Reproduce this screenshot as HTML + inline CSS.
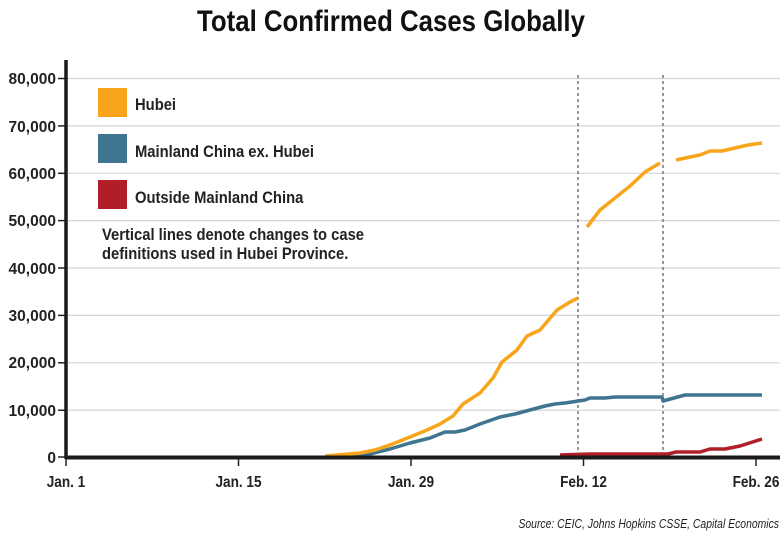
<!DOCTYPE html>
<html><head><meta charset="utf-8"><style>
html,body{margin:0;padding:0;background:#fff;}
svg{display:block;font-family:"Liberation Sans",sans-serif;}
</style></head><body>
<svg width="782" height="536" viewBox="0 0 782 536">
<text x="391" y="31" text-anchor="middle" font-size="30" font-weight="bold" fill="#111" transform="translate(391,0) scale(0.86,1) translate(-391,0)">Total Confirmed Cases Globally</text>
<g stroke="#d4d4d4" stroke-width="1.2">
<line x1="66" x2="780" y1="78.5" y2="78.5"/>
<line x1="66" x2="780" y1="125.9" y2="125.9"/>
<line x1="66" x2="780" y1="173.3" y2="173.3"/>
<line x1="66" x2="780" y1="220.6" y2="220.6"/>
<line x1="66" x2="780" y1="268" y2="268"/>
<line x1="66" x2="780" y1="315.4" y2="315.4"/>
<line x1="66" x2="780" y1="362.8" y2="362.8"/>
<line x1="66" x2="780" y1="410.2" y2="410.2"/>
</g>
<g font-size="16" font-weight="bold" fill="#222" text-anchor="end">
<g transform="translate(56,0) scale(0.97,1) translate(-56,0)">
<text x="56" y="84">80,000</text>
<text x="56" y="132">70,000</text>
<text x="56" y="179">60,000</text>
<text x="56" y="226">50,000</text>
<text x="56" y="274">40,000</text>
<text x="56" y="321">30,000</text>
<text x="56" y="368">20,000</text>
<text x="56" y="416">10,000</text>
<text x="56" y="463">0</text>
</g></g>
<g stroke="#222" stroke-width="1.5">
<line x1="58" x2="66" y1="78.5" y2="78.5"/><line x1="58" x2="66" y1="125.9" y2="125.9"/>
<line x1="58" x2="66" y1="173.3" y2="173.3"/><line x1="58" x2="66" y1="220.6" y2="220.6"/>
<line x1="58" x2="66" y1="268" y2="268"/><line x1="58" x2="66" y1="315.4" y2="315.4"/>
<line x1="58" x2="66" y1="362.8" y2="362.8"/><line x1="58" x2="66" y1="410.2" y2="410.2"/>
<line x1="58" x2="66" y1="457" y2="457"/>
<line x1="66" x2="66" y1="457" y2="466"/><line x1="238.5" x2="238.5" y1="457" y2="466"/>
<line x1="411" x2="411" y1="457" y2="466"/><line x1="583.5" x2="583.5" y1="457" y2="466"/>
<line x1="756" x2="756" y1="457" y2="466"/>
</g>
<line x1="66" x2="66" y1="60" y2="459" stroke="#1a1a1a" stroke-width="3.5"/>
<g stroke="#777" stroke-width="1.5" stroke-dasharray="3,3">
<line x1="578" x2="578" y1="75" y2="457"/><line x1="663" x2="663" y1="75" y2="457"/>
</g>
<g fill="none" stroke-width="3.5" stroke-linejoin="round">
<polyline stroke="#b01e27" points="560,455 590,454 620,454 650,454 668,454 676,452 700,452 710,449 725,449 740,446 762,439"/>
<polyline stroke="#3f7590" points="330,457 370,454 390,449 410,443 430,438 440,434 445,432 455,432 465,430 480,424 500,417 515,414 530,410 545,406 555,404 565,403 585,400 590,398 605,398 615,397 640,397 662,397 663,401 685,395 762,395"/>
<polyline stroke="#f8a51c" points="325,456 360,453 375,450 390,445 410,437 427,430 440,424 453,416 463,404 480,393 493,378 502,362 517,350 527,336 540,330 557,310 570,302 578,298"/>
<polyline stroke="#f8a51c" points="587,227 600,210 615,198 630,186 645,172 660,163"/>
<polyline stroke="#f8a51c" points="676,160 690,157 700,155 710,151 722,151 735,148 748,145 762,143"/>
</g>
<line x1="66" x2="780" y1="457.5" y2="457.5" stroke="#1a1a1a" stroke-width="4"/>
<g font-size="16" font-weight="bold" fill="#222" text-anchor="middle">
<text x="66" y="487" transform="translate(66,0) scale(0.85,1) translate(-66,0)">Jan. 1</text>
<text x="238.5" y="487" transform="translate(238.5,0) scale(0.85,1) translate(-238.5,0)">Jan. 15</text>
<text x="411" y="487" transform="translate(411,0) scale(0.85,1) translate(-411,0)">Jan. 29</text>
<text x="583.5" y="487" transform="translate(583.5,0) scale(0.85,1) translate(-583.5,0)">Feb. 12</text>
<text x="756" y="487" transform="translate(756,0) scale(0.85,1) translate(-756,0)">Feb. 26</text>
</g>
<rect x="98" y="88" width="29" height="29" fill="#f8a51c"/>
<rect x="98" y="134" width="29" height="29" fill="#3f7590"/>
<rect x="98" y="180" width="29" height="29" fill="#b01e27"/>
<g font-size="17" font-weight="bold" fill="#222" transform="translate(135,0) scale(0.87,1) translate(-135,0)">
<text x="135" y="110">Hubei</text>
<text x="135" y="157">Mainland China ex. Hubei</text>
<text x="135" y="203">Outside Mainland China</text>
</g>
<g font-size="17" font-weight="bold" fill="#222" transform="translate(102,0) scale(0.87,1) translate(-102,0)">
<text x="102" y="240">Vertical lines denote changes to case</text>
<text x="102" y="259">definitions used in Hubei Province.</text>
</g>
<text x="779" y="528" text-anchor="end" font-size="13" font-style="italic" fill="#222" transform="translate(779,0) scale(0.8,1) translate(-779,0)">Source: CEIC, Johns Hopkins CSSE, Capital Economics</text>
</svg>
</body></html>
